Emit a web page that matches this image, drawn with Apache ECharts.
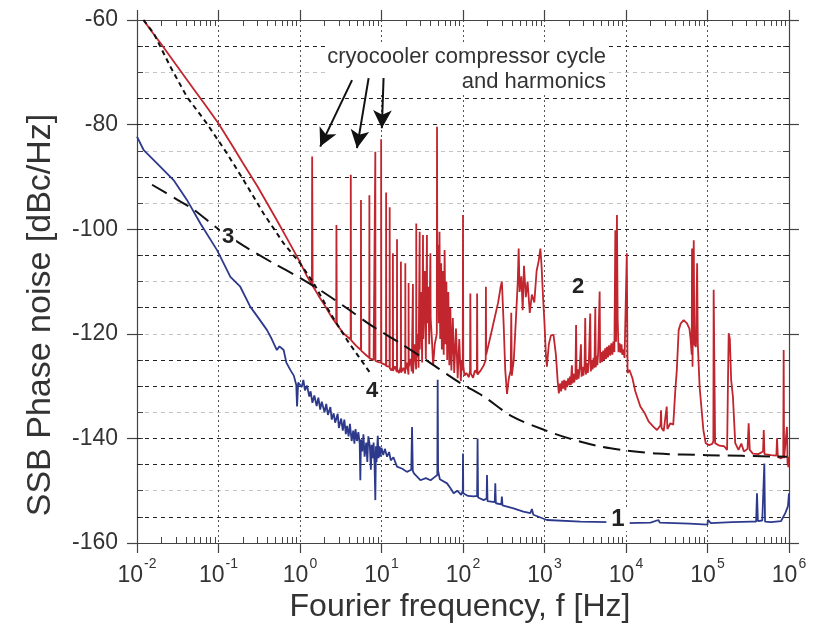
<!DOCTYPE html>
<html>
<head>
<meta charset="utf-8">
<script src="https://cdn.jsdelivr.net/npm/echarts@6/dist/echarts.min.js"></script>
<style>
html,body{margin:0;padding:0;background:#fff;}
#chart{width:831px;height:628px;}
</style>
</head>
<body>
<div id="chart"></div>
<script>
// ---- Data (frequency in Hz, SSB phase noise in dBc/Hz) ----
const xTitle = 'Fourier frequency, f [Hz]';
const yTitle = 'SSB Phase noise [dBc/Hz]';
const annotationLine1 = 'cryocooler compressor cycle';
const annotationLine2 = 'and harmonics';
const curveLabels = ['1', '2', '3', '4'];
const xMin = 0.01, xMax = 1e6;
const yMin = -160, yMax = -60;

// Curve 1 (blue)
const curve1 = [
 [0.01,-82.3],[0.0121,-84.9],[0.0176,-87.4],[0.0281,-90.6],[0.041,-94.4],[0.06,-98.9],[0.096,-104],
 [0.14,-109.1],[0.185,-111],[0.245,-114.8],[0.31,-117],[0.394,-119.3],[0.45,-121],[0.52,-123.1],
 [0.56,-122.4],[0.63,-123.1],[0.68,-125.5],[0.76,-126.9],[0.84,-128],[0.9,-129.8],[0.92,-133.9],
 [0.95,-129.3],[1.05,-130.2],[1.1,-128.8],[1.15,-130.8],[1.22,-129.9],[1.3,-132],[1.35,-131],[1.42,-133.2],
 [1.5,-131.8],[1.6,-133.8],[1.68,-132.2],[1.77,-134.5],[1.85,-133],[2.0,-135],[2.1,-133.4],[2.2,-135.5],
 [2.36,-134],[2.45,-136.4],[2.59,-135.2],[2.7,-137],[2.9,-135.3],[3.0,-138],[3.2,-136.2],[3.35,-138.5],
 [3.5,-136.4],[3.65,-139.2],[3.78,-137.6],[3.95,-139.6],[4.1,-137.2],[4.3,-140.5],[4.5,-138.5],[4.65,-141],
 [4.8,-138.2],[5.0,-140.5],[5.2,-138.8],[5.4,-141],[5.5,-148],[5.6,-140.2],[5.8,-142.5],[6.0,-139.2],
 [6.2,-143.5],[6.5,-140.8],[6.7,-144.5],[6.9,-139.6],[7.2,-141.5],[7.4,-146],[7.6,-141.2],[7.8,-143.8],
 [8.0,-140.8],[8.2,-144.5],[8.4,-151.8],[8.55,-141.5],[8.7,-144.5],[9.0,-139.5],[9.2,-143.8],[9.5,-141.5],
 [9.7,-143.5],[10.0,-141.8],[10.5,-143.2],[11,-142],[11.7,-143.5],[12.4,-142.6],[13,-144.2],[14,-143.6],
 [15.5,-145.4],[18,-145.8],[20.5,-146.4],[23.2,-146],[23.7,-137.8],[24.2,-146.2],[25,-146.7],[30,-148],
 [35,-147.6],[40,-148],[44,-147.5],[48.4,-147],[48.9,-128.8],[49.5,-146.2],[52,-147.8],[63.7,-148.6],
 [70,-149.5],[76.8,-150.5],[85,-150],[95,-150.8],[99.4,-150],[100,-142.9],[100.8,-150.5],[115,-151],
 [135,-151.1],[149,-151],[151,-140],[153,-151.3],[180,-151.8],[195,-151.5],[197,-147],[200,-152],
 [245,-152.2],[249,-148.6],[253,-152.4],[295,-152.6],[300,-151.1],[305,-152.8],[417,-153.4],[550,-154],
 [670,-154.3],[700,-153.5],[730,-154.6],[1070,-155.6],[2760,-155.9],[6000,-156],[10000,-156.2],
 [20000,-156.1],[25000,-155.6],[26000,-156.1],[60000,-156.3],[100000,-156.5],[101000,-155.6],
 [110000,-156.2],[200000,-156],[350000,-155.9],[395000,-155.9],[405000,-150.5],[415000,-155.8],
 [470000,-155.7],[488000,-155.5],[498000,-144.8],[508000,-155.9],[600000,-156],[800000,-155.8],
 [900000,-154.3],[970000,-153],[1000000,-150.5]
];

// Curve 2 (red)
const curve2 = [
 [0.012,-60],[0.015,-62.1],[0.02,-64.7],[0.03,-68.5],[0.05,-73.3],[0.07,-76.4],[0.1,-79.8],[0.15,-84.2],
 [0.2,-87.4],[0.3,-91.8],[0.5,-97.8],[0.7,-101.9],[1.0,-106.3],[1.2,-108.8],[1.40,-110.6],[1.41,-86.1],
 [1.43,-110.8],[1.7,-112.8],[2.0,-114.5],[2.4,-116.6],[2.78,-118.1],[2.8,-99.2],[2.83,-118.2],[3.4,-119.9],
 [4.18,-121.1],[4.2,-89.6],[4.23,-121.2],[4.9,-122.3],[5.58,-123.1],[5.6,-94.4],[5.63,-123.2],[6.5,-124.1],
 [7.08,-124.6],[7.1,-93.5],[7.14,-124.7],[8.0,-125.0],[8.38,-125.1],[8.4,-85.2],[8.44,-125.2],[9.2,-125.4],
 [9.88,-125.5],[9.9,-82.8],[9.95,-125.6],[10.7,-125.8],[11.35,-126],[11.4,-93.0],[11.45,-126.2],[12.1,-126.5],
 [12.55,-126.3],[12.6,-95.8],[12.66,-126.6],[13.2,-127],[13.75,-126.4],[13.8,-104.6],[13.87,-127.1],
 [14.6,-126.2],[15.45,-127.3],[15.5,-101.9],[15.58,-126.8],[16.4,-127.5],[17.25,-126.2],[17.3,-106.2],
 [17.4,-127.4],[18.5,-126.5],[19.55,-127.6],[19.6,-106.5],[19.7,-126.9],[20.5,-125.5],[21.45,-127.8],
 [21.5,-110.3],[21.6,-126.3],[22.8,-124.8],[23.5,-127.2],[24.3,-110.5],[24.4,-127.6],[25.5,-122],
 [26.6,-126.8],[26.7,-98.9],[26.85,-124.5],[28,-120],[28.5,-126.5],[29.4,-100.5],[29.5,-123],[30.8,-112],
 [31.5,-125.5],[32.3,-101.1],[32.5,-121],[34,-108],[35,-124.8],[36.1,-101.1],[36.3,-118],[37.5,-111],
 [38.5,-122],[39.8,-104.6],[40.1,-117],[41.5,-121],[43,-126],[45,-122],[47.7,-120],[48,-80.4],[48.4,-111],
 [49.5,-103],[50.5,-118],[51.5,-100.5],[52.5,-121],[54,-106.5],[55,-123],[56.5,-108],[58,-124],[59.5,-104],
 [61,-122],[62.5,-110],[64,-125],[66,-112],[68,-126],[70,-115],[72,-127],[75,-117],[78,-127.5],[82,-119],
 [86,-128.5],[90,-121],[94,-129],[97,-125],[99.3,-127],[100,-97.3],[100.8,-126],[104,-128],[110,-127.5],
 [118,-128.3],[122,-127],[123,-112.3],[124.5,-127.6],[133,-128.4],[140,-127],[148,-127.5],[149,-112.3],
 [150.5,-127.8],[165,-127],[180,-126],[190,-125],[191,-111],[192.5,-124],[210,-121.5],[240,-117.5],
 [270,-114],[290,-111],[300,-110],[315,-118],[330,-127],[347,-131.5],[365,-128.5],[385,-127],[391,-116],
 [397,-128],[420,-125],[450,-116],[470,-110],[482,-103.7],[495,-112],[520,-109],[540,-115.5],[560,-107],
 [590,-113],[620,-110],[660,-116],[700,-112.5],[750,-114],[800,-108],[850,-106],[890,-103.7],[920,-107],
 [960,-113],[1000,-118],[1040,-124],[1070,-126.3],[1130,-122],[1200,-120.3],[1290,-120.2],[1380,-124],
 [1450,-129],[1500,-131.4],[1550,-129.5],[1600,-131],[1650,-129],[1700,-130.5],[1750,-128.8],[1800,-130.8],
 [1850,-129],[1900,-130.2],[1950,-128.5],[2000,-129.8],[2050,-128.2],[2100,-129.8],[2170,-126],[2200,-129.5],
 [2260,-127.6],[2320,-129.3],[2400,-127.5],[2440,-118.3],[2480,-128.8],[2550,-126.8],[2620,-128.6],
 [2700,-126.5],[2800,-122],[2850,-128.2],[2920,-126.3],[3000,-128],[3100,-126],[3160,-117],[3220,-127.8],
 [3300,-125.6],[3400,-127.5],[3500,-125.3],[3640,-116.1],[3700,-127.2],[3800,-125],[3900,-126.8],
 [4000,-124.6],[4100,-126.5],[4200,-115.1],[4260,-126.4],[4350,-124.2],[4450,-126],[4550,-123.8],
 [4750,-111.9],[4820,-125.6],[4950,-123.5],[5100,-125.4],[5250,-123.2],[5400,-125],[5550,-122.8],
 [5700,-124.8],[5850,-122.5],[6000,-124.5],[6200,-122.2],[6400,-124.2],[6600,-121.8],[6800,-124],
 [7000,-121.5],[7200,-123.5],[7400,-100.2],[7550,-121.5],[7740,-97.3],[7900,-117],[8100,-123.5],
 [8300,-121.8],[8600,-123.6],[8800,-122],[9000,-124],[9300,-123],[9600,-124.6],[10000,-124.8],
 [10230,-104.6],[10450,-127.5],
 [11000,-126.9],[12000,-128.5],[13000,-131],[15000,-133.9],[17000,-135.2],[19000,-136.8],[21800,-137.8],
 [24000,-138.4],[26500,-137.5],[26900,-134.6],[27300,-138],[29000,-138.6],[31600,-133.9],[32200,-138.2],
 [35000,-137.1],[38000,-137.4],[40300,-130.7],[42000,-127],[44300,-119.3],[47000,-118],[51000,-117.4],
 [56000,-118],[60000,-119],[62000,-121],[64000,-124],[64600,-103.7],[65500,-126.3],[67800,-102.1],
 [69000,-122],[72000,-122.5],[74600,-106.5],[76000,-121.8],[80000,-130.1],[89000,-138.4],[95000,-140.9],
 [105000,-141.3],[115000,-141],[118000,-140.5],[119000,-111.6],[121000,-111.6],[124000,-140.9],
 [140000,-141.4],[160000,-141.5],[174000,-142.2],[178000,-130],[182000,-119.9],[188000,-121],
 [195000,-128.8],[205000,-132],[219000,-140.9],[240000,-142.2],[260000,-141],[280000,-142.5],
 [310000,-142],[320000,-137.1],[330000,-142.2],[360000,-142.9],[420000,-143],[480000,-142.5],
 [490000,-138.4],[500000,-143],[600000,-143.2],[700000,-143.3],[713000,-140],[730000,-143.6],
 [800000,-143.8],[850000,-143.5],[860000,-123.1],[870000,-143.8],[920000,-143.5],[944000,-137.8],
 [960000,-144.7],[985000,-145.5],[1000000,-143.5]
];

// Curve 3 (long dashed)
const curve3 = [
 [0.0153,-91.5],[0.03,-94.2],[0.05,-96.3],[0.1,-100],[0.2,-103.1],[0.47,-106.5],[1.0,-109.3],[2,-112.2],
 [4,-115.4],[7.3,-118.3],[17,-121.8],[35,-125],[90,-129.3],[180,-132],[400,-135.8],[1000,-138.4],
 [2000,-140],[5000,-141.6],[10000,-142.3],[24000,-142.9],[100000,-143.2],[950000,-143.5]
];

// Curve 4 (short dashed)
const curve4 = [
 [0.012,-60],[0.016,-62.5],[0.0256,-68.9],[0.041,-74.7],[0.072,-79.8],[0.127,-85.5],[0.203,-90.6],
 [0.357,-97],[0.63,-102.7],[1.0,-106.5],[1.47,-110.3],[2.36,-116.1],[3.78,-121.2],[7.5,-127.8]
];

// Arrows: [start, tip] in data coordinates
const arrows = [
 [[4.35,-71.5],[1.77,-84.2]],
 [[6.95,-71.1],[5.0,-84.5]],
 [[10.6,-71.1],[10.1,-80.7]]
];

// Darker horizontal grid rows (as printed)
const darkRows = [-65,-75,-80,-90,-100,-105,-115,-125,-130,-140,-145,-155];

// minor tick positions of the log axis (2..9 x each decade)
const minorX = [];
for (let e = -2; e < 6; e++) for (let m = 2; m <= 9; m++) minorX.push(m * Math.pow(10, e));

const FF = '"Liberation Sans", Arial, Helvetica, sans-serif';
const axisCol = '#444';

const chart = echarts.init(document.getElementById('chart'), null, {renderer: 'canvas'});

function logAxis(extra) {
  return Object.assign({
    type: 'log', logBase: 10, min: xMin, max: xMax, splitNumber: 8, gridIndex: 0,
    axisLine: {show: false}, axisLabel: {show: false}, axisTick: {show: false},
    splitLine: {show: false}, minorTick: {show: false}
  }, extra);
}
function valAxis(extra) {
  return Object.assign({
    type: 'value', min: yMin, max: yMax, gridIndex: 0,
    axisLine: {show: false}, axisLabel: {show: false}, axisTick: {show: false},
    splitLine: {show: false}
  }, extra);
}

const option = {
  animation: false,
  backgroundColor: '#fff',
  grid: {left: 137, right: 42, top: 20, bottom: 85, containLabel: false},
  xAxis: [
    logAxis({
      position: 'bottom',
      axisLine: {show: true, lineStyle: {color: axisCol, width: 1.2}},
      axisTick: {show: true, inside: false, length: 10, lineStyle: {color: axisCol, width: 1.2}},
      axisLabel: {
        show: true, margin: 14, color: '#333',
        formatter: function (v) {
          const e = Math.round(Math.log10(v));
          return '{b|10}{s|' + e + '}';
        },
        rich: {
          b: {fontFamily: FF, fontSize: 23, color: '#333', lineHeight: 30, verticalAlign: 'bottom'},
          s: {fontFamily: FF, fontSize: 14, color: '#333', lineHeight: 30, verticalAlign: 'top', padding: [0, 0, 0, 1]}
        }
      },
      splitLine: {show: true, lineStyle: {color: '#555', type: [2, 3], width: 1}}
    }),
    logAxis({
      position: 'bottom',
      axisTick: {show: true, inside: true, length: 6, customValues: minorX, lineStyle: {color: axisCol, width: 1}}
    }),
    logAxis({
      position: 'top',
      axisLine: {show: true, lineStyle: {color: axisCol, width: 1.2}},
      axisTick: {show: true, inside: false, length: 10, lineStyle: {color: axisCol, width: 1.2}}
    }),
    logAxis({
      position: 'top',
      axisTick: {show: true, inside: true, length: 6, customValues: minorX, lineStyle: {color: axisCol, width: 1}}
    })
  ],
  yAxis: [
    valAxis({
      position: 'left', interval: 20,
      axisLine: {show: true, lineStyle: {color: axisCol, width: 1.2}},
      axisTick: {show: true, inside: false, length: 10, lineStyle: {color: axisCol, width: 1.2}},
      axisLabel: {show: true, margin: 19, fontFamily: FF, fontSize: 23, color: '#333'}
    }),
    valAxis({
      position: 'left', interval: 5,
      axisTick: {show: true, inside: true, length: 6, lineStyle: {color: axisCol, width: 1}},
      splitLine: {show: true, lineStyle: {color: '#c4c4c4', type: [4, 4], width: 1}}
    }),
    valAxis({
      position: 'right', interval: 20,
      axisLine: {show: true, lineStyle: {color: axisCol, width: 1.2}},
      axisTick: {show: true, inside: false, length: 10, lineStyle: {color: axisCol, width: 1.2}}
    }),
    valAxis({
      position: 'right', interval: 5,
      axisTick: {show: true, inside: true, length: 6, lineStyle: {color: axisCol, width: 1}}
    })
  ],
  series: [
    {
      type: 'line', data: [], xAxisIndex: 0, yAxisIndex: 0, z: 1, silent: true,
      markLine: {
        z: 1, silent: true, symbol: ['none', 'none'], label: {show: false},
        lineStyle: {color: '#222', type: [4, 4], width: 1},
        data: darkRows.map(v => ({yAxis: v}))
      }
    },
    {
      name: '1', type: 'line', data: curve1, xAxisIndex: 0, yAxisIndex: 0, z: 3,
      showSymbol: false, symbol: 'none',
      lineStyle: {color: '#2d3a8c', width: 1.8}
    },
    {
      name: '2', type: 'line', data: curve2, xAxisIndex: 0, yAxisIndex: 0, z: 4,
      showSymbol: false, symbol: 'none',
      lineStyle: {color: '#c1252d', width: 1.8}
    },
    {
      name: '3', type: 'line', data: curve3, xAxisIndex: 0, yAxisIndex: 0, z: 5,
      showSymbol: false, symbol: 'none', smooth: 0.3,
      lineStyle: {color: '#111', width: 2, type: [17, 8]}
    },
    {
      name: '4', type: 'line', data: curve4, xAxisIndex: 0, yAxisIndex: 0, z: 5,
      showSymbol: false, symbol: 'none',
      lineStyle: {color: '#111', width: 2, type: [5, 4]}
    },
    {
      type: 'line', data: [], xAxisIndex: 0, yAxisIndex: 0, z: 10, silent: true,
      markLine: {
        z: 10, silent: true, symbol: ['none', 'arrow'], symbolSize: [14, 18], label: {show: false},
        lineStyle: {color: '#111', type: 'solid', width: 2},
        data: arrows.map(a => [{coord: a[0]}, {coord: a[1]}])
      }
    }
  ],
  graphic: [
    {type: 'text', x: 41, y: 315, rotation: Math.PI / 2, z: 6,
     style: {text: yTitle, font: '34px ' + FF, fill: '#333', textAlign: 'center', textVerticalAlign: 'middle'}},
    {type: 'text', x: 460, y: 607, z: 6,
     style: {text: xTitle, font: '32px ' + FF, fill: '#333', textAlign: 'center', textVerticalAlign: 'middle'}},
    {type: 'rect', z: 6, shape: {x: 327, y: 42, width: 281, height: 52}, style: {fill: '#fff'}},
    {type: 'text', x: 606, y: 57, z: 7,
     style: {text: annotationLine1, font: '22px ' + FF, fill: '#333', textAlign: 'right', textVerticalAlign: 'middle'}},
    {type: 'text', x: 606, y: 82, z: 7,
     style: {text: annotationLine2, font: '22px ' + FF, fill: '#333', textAlign: 'right', textVerticalAlign: 'middle'}},
    {type: 'text', x: 618, y: 519, z: 7,
     style: {text: curveLabels[0], font: 'bold 24px ' + FF, fill: '#222', textAlign: 'center', textVerticalAlign: 'middle',
             backgroundColor: '#fff', padding: [0, 5]}},
    {type: 'text', x: 578, y: 287, z: 7,
     style: {text: curveLabels[1], font: 'bold 22px ' + FF, fill: '#222', textAlign: 'center', textVerticalAlign: 'middle'}},
    {type: 'text', x: 228, y: 237, z: 7,
     style: {text: curveLabels[2], font: 'bold 22px ' + FF, fill: '#222', textAlign: 'center', textVerticalAlign: 'middle',
             backgroundColor: '#fff', padding: [0, 2]}},
    {type: 'text', x: 372, y: 391, z: 7,
     style: {text: curveLabels[3], font: 'bold 22px ' + FF, fill: '#222', textAlign: 'center', textVerticalAlign: 'middle',
             backgroundColor: '#fff', padding: [0, 2]}}
  ]
};
chart.setOption(option);
</script>
</body>
</html>
